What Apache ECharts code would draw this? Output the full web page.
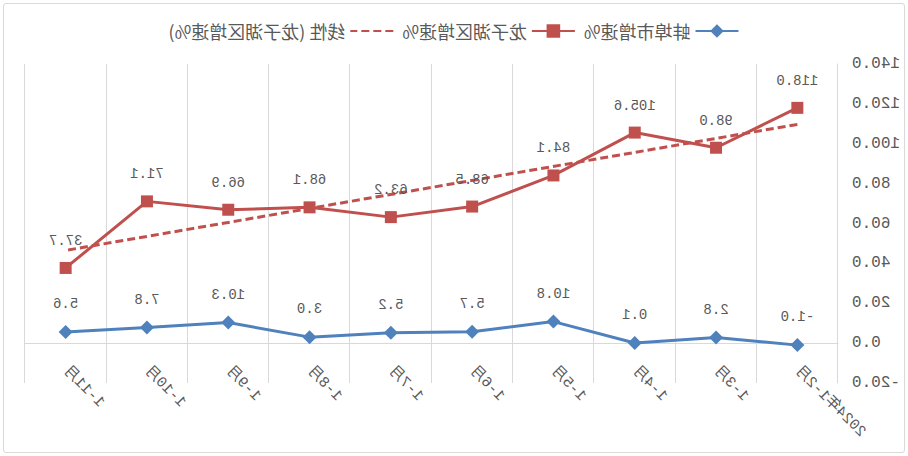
<!DOCTYPE html>
<html>
<head>
<meta charset="utf-8">
<title>蚌埠市 / 龙子湖区 增速</title>
<script src="https://cdn.jsdelivr.net/npm/echarts@6/dist/echarts.min.js"></script>
<style>
  html, body { margin: 0; padding: 0; background: #fff; }
  #wrap {
    position: relative;
    width: 908px;
    height: 456px;
    transform: scaleX(-1);
  }
  #frame {
    position: absolute;
    left: 3px; top: 3px;
    width: 900px; height: 448px;
    border: 1px solid #d9d9d9;
    border-radius: 3px;
  }
  #chartmain { position: absolute; left: 0; top: 0; width: 908px; height: 456px; }
</style>
</head>
<body>
<div id="wrap">
  <div id="frame"></div>
  <div id="chartmain"></div>
</div>
<script>
// 月份
var months = ['2024年1-2月', '1-3月', '1-4月', '1-5月', '1-6月', '1-7月', '1-8月', '1-9月', '1-10月', '1-11月']
// 蚌埠市增速%
var bengbu = [-1.0, 2.8, 0.1, 10.8, 5.7, 5.2, 3.0, 10.3, 7.8, 5.6]
// 龙子湖区增速%
var longzihu = [118.0, 98.0, 105.6, 84.1, 68.5, 63.2, 68.1, 66.9, 71.1, 37.7]
// 线性 (龙子湖区增速%) 两端
var trend = [109.7, null, null, null, null, null, null, null, null, 46.5]
// y轴
var yMin = -20
var yMax = 140
var yStep = 20

var grayText = '#595959'
var gridColor = '#d9d9d9'
var numFont = '"Liberation Mono", "Noto Sans CJK SC", monospace'
var cjkFont = '"Noto Sans CJK SC", sans-serif'

var dataLabel = {
  show: true,
  position: 'top',
  distance: 14,
  color: grayText,
  fontFamily: numFont,
  fontSize: 14,
  formatter: function (p) {
    return p.value.toFixed(1)
  },
}

var option = {
  animation: false,
  backgroundColor: 'rgba(0,0,0,0)',
  textStyle: { fontFamily: cjkFont },
  legend: {
    left: 'center',
    top: 17,
    itemWidth: 43,
    itemHeight: 17,
    itemGap: 8,
    textStyle: {
      color: grayText,
      fontSize: 18,
      fontFamily: cjkFont,
    },
    data: [
      { name: '蚌埠市增速%', itemStyle: { borderWidth: 0 } },
      { name: '龙子湖区增速%', itemStyle: { borderWidth: 0 } },
      { name: '线性 (龙子湖区增速%)', itemStyle: { opacity: 0 } },
    ],
  },
  grid: {
    left: 70,
    right: 25,
    top: 64,
    bottom: 73,
    containLabel: false,
    outerBoundsMode: 'none',
  },
  xAxis: [
    {
      type: 'category',
      boundaryGap: true,
      data: months,
      axisLine: {
        show: true,
        onZero: true,
        lineStyle: { color: gridColor, width: 1 },
      },
      axisTick: { show: false },
      axisLabel: {
        interval: 0,
        rotate: 45,
        margin: -14,
        color: grayText,
        fontFamily: numFont,
        fontSize: 15,
      },
      splitLine: {
        show: true,
        interval: 0,
        lineStyle: { color: gridColor, width: 1 },
      },
    },
  ],
  yAxis: [
    {
      type: 'value',
      min: yMin,
      max: yMax,
      interval: yStep,
      axisLine: {
        show: true,
        lineStyle: { color: gridColor, width: 1 },
      },
      axisTick: { show: false },
      splitLine: { show: false },
      axisLabel: {
        margin: 14,
        color: grayText,
        fontFamily: numFont,
        fontSize: 16,
        formatter: function (v) {
          return v.toFixed(1)
        },
      },
    },
  ],
  series: [
    {
      name: '蚌埠市增速%',
      type: 'line',
      symbol: 'diamond',
      symbolSize: 14,
      showAllSymbol: true,
      itemStyle: { color: '#4f81bd' },
      lineStyle: { color: '#4f81bd', width: 3 },
      label: dataLabel,
      data: bengbu,
      z: 3,
    },
    {
      name: '龙子湖区增速%',
      type: 'line',
      symbol: 'rect',
      symbolSize: 12,
      showAllSymbol: true,
      itemStyle: { color: '#c0504d' },
      lineStyle: { color: '#c0504d', width: 3 },
      label: dataLabel,
      data: longzihu,
      z: 3,
    },
    {
      name: '线性 (龙子湖区增速%)',
      type: 'line',
      symbol: 'none',
      connectNulls: true,
      itemStyle: { color: '#c0504d' },
      lineStyle: { color: '#c0504d', width: 3, type: [8, 4] },
      data: trend,
      z: 2,
    },
  ],
}

//初始化echarts实例
var myChart = echarts.init(document.getElementById('chartmain'), null, { renderer: 'svg' })
myChart.setOption(option)
</script>
</body>
</html>
